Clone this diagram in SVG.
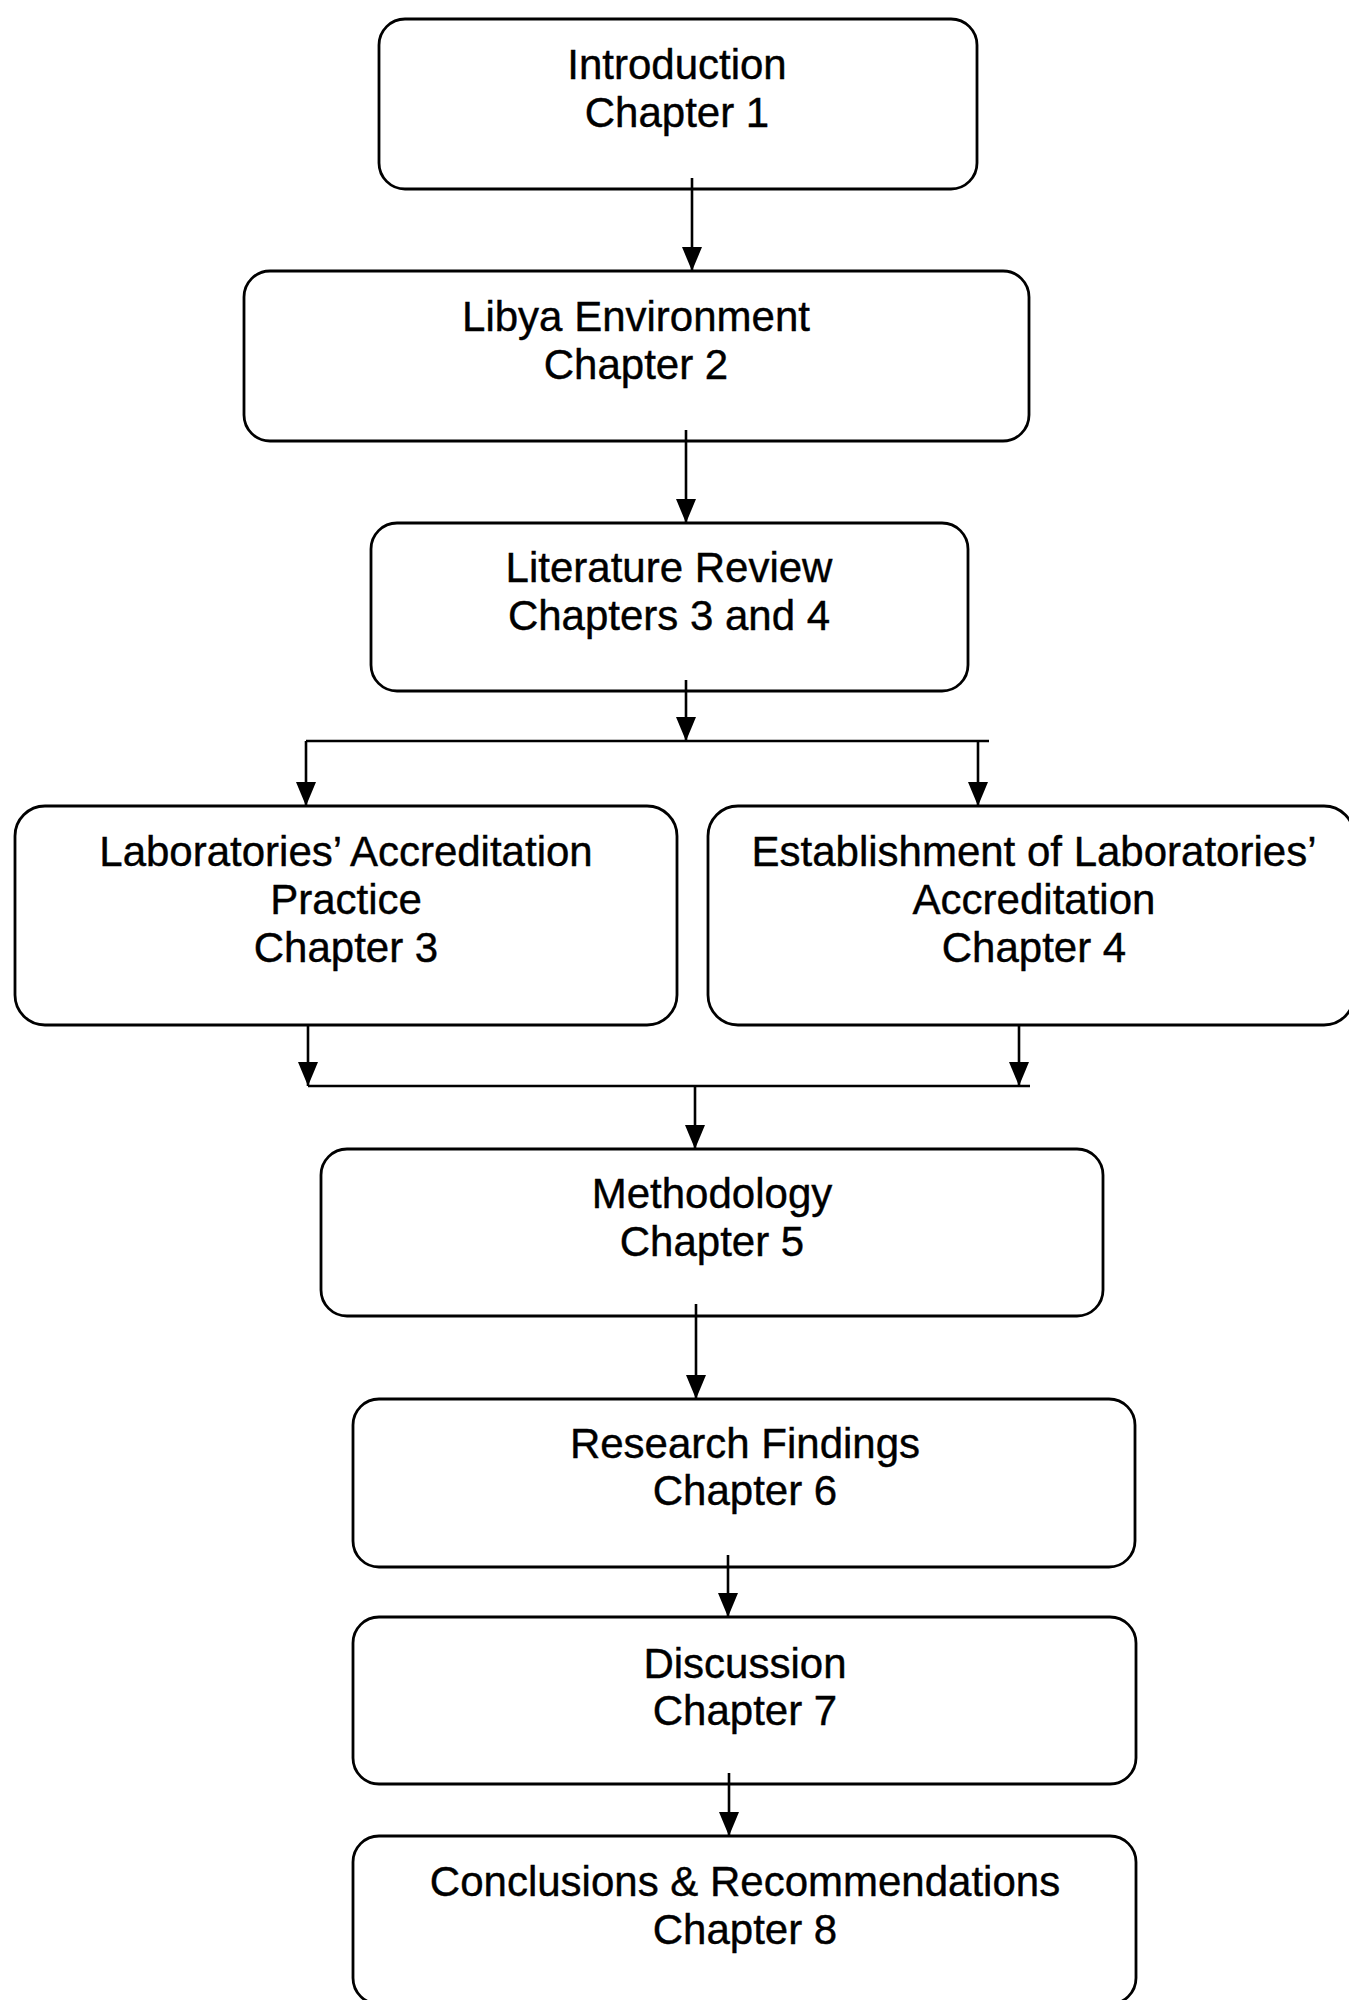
<svg xmlns="http://www.w3.org/2000/svg" width="1349" height="2000" viewBox="0 0 1349 2000">
  <style>
    .box { fill: #ffffff; stroke: #000000; stroke-width: 2.8; }
    .lbl { font-family: "Liberation Sans", Arial, sans-serif; font-size: 42px; fill: #000000; stroke: #000000; stroke-width: 0.4; text-anchor: middle; }
    .wire { fill: none; stroke: #000000; stroke-width: 2.6; }
  </style>
  <defs>
    <marker id="arrow" markerUnits="userSpaceOnUse" markerWidth="24" markerHeight="20" refX="24" refY="10" orient="auto">
      <path d="M0,0 L24,10 L0,20 z" fill="#000000"/>
    </marker>
  </defs>

  <rect width="1349" height="2000" fill="#ffffff"/>

  <!-- chapter boxes -->
  <g id="intro">
    <rect class="box" x="379" y="19" width="598" height="170" rx="26"/>
    <text class="lbl" x="677" y="79">Introduction</text>
    <text class="lbl" x="677" y="127">Chapter 1</text>
  </g>

  <g id="libya">
    <rect class="box" x="244" y="271" width="785" height="170" rx="26"/>
    <text class="lbl" x="636" y="331">Libya Environment</text>
    <text class="lbl" x="636" y="379">Chapter 2</text>
  </g>

  <g id="literature">
    <rect class="box" x="371" y="523" width="597" height="168" rx="26"/>
    <text class="lbl" x="669" y="582">Literature Review</text>
    <text class="lbl" x="669" y="630">Chapters 3 and 4</text>
  </g>

  <g id="practice">
    <rect class="box" x="15" y="806" width="662" height="219" rx="30"/>
    <text class="lbl" x="346" y="866">Laboratories’ Accreditation</text>
    <text class="lbl" x="346" y="914">Practice</text>
    <text class="lbl" x="346" y="962">Chapter 3</text>
  </g>

  <g id="establishment">
    <rect class="box" x="708" y="806" width="646" height="219" rx="30"/>
    <text class="lbl" x="1034" y="866">Establishment of Laboratories’</text>
    <text class="lbl" x="1034" y="914">Accreditation</text>
    <text class="lbl" x="1034" y="962">Chapter 4</text>
  </g>

  <g id="methodology">
    <rect class="box" x="321" y="1149" width="782" height="167" rx="26"/>
    <text class="lbl" x="712" y="1208">Methodology</text>
    <text class="lbl" x="712" y="1256">Chapter 5</text>
  </g>

  <g id="findings">
    <rect class="box" x="353" y="1399" width="782" height="168" rx="26"/>
    <text class="lbl" x="745" y="1458">Research Findings</text>
    <text class="lbl" x="745" y="1505">Chapter 6</text>
  </g>

  <g id="discussion">
    <rect class="box" x="353" y="1617" width="783" height="167" rx="26"/>
    <text class="lbl" x="745" y="1678">Discussion</text>
    <text class="lbl" x="745" y="1725">Chapter 7</text>
  </g>

  <g id="conclusions">
    <rect class="box" x="353" y="1836" width="783" height="168" rx="26"/>
    <text class="lbl" x="745" y="1896">Conclusions &amp; Recommendations</text>
    <text class="lbl" x="745" y="1944">Chapter 8</text>
  </g>

  <!-- connectors -->
  <g id="connectors">
    <line class="wire" x1="692" y1="178" x2="692" y2="271" marker-end="url(#arrow)"/>
    <line class="wire" x1="686" y1="430" x2="686" y2="523" marker-end="url(#arrow)"/>

    <!-- split towards chapters 3 and 4 -->
    <line class="wire" x1="686" y1="680" x2="686" y2="741" marker-end="url(#arrow)"/>
    <line class="wire" x1="306" y1="741" x2="989" y2="741"/>
    <line class="wire" x1="306" y1="741" x2="306" y2="806" marker-end="url(#arrow)"/>
    <line class="wire" x1="978" y1="741" x2="978" y2="806" marker-end="url(#arrow)"/>

    <!-- join back into methodology -->
    <line class="wire" x1="308" y1="1025" x2="308" y2="1086" marker-end="url(#arrow)"/>
    <line class="wire" x1="1019" y1="1025" x2="1019" y2="1086" marker-end="url(#arrow)"/>
    <line class="wire" x1="308" y1="1086" x2="1030" y2="1086"/>
    <line class="wire" x1="695" y1="1086" x2="695" y2="1149" marker-end="url(#arrow)"/>

    <line class="wire" x1="696" y1="1304" x2="696" y2="1399" marker-end="url(#arrow)"/>
    <line class="wire" x1="728" y1="1555" x2="728" y2="1617" marker-end="url(#arrow)"/>
    <line class="wire" x1="729" y1="1773" x2="729" y2="1836" marker-end="url(#arrow)"/>
  </g>
</svg>
